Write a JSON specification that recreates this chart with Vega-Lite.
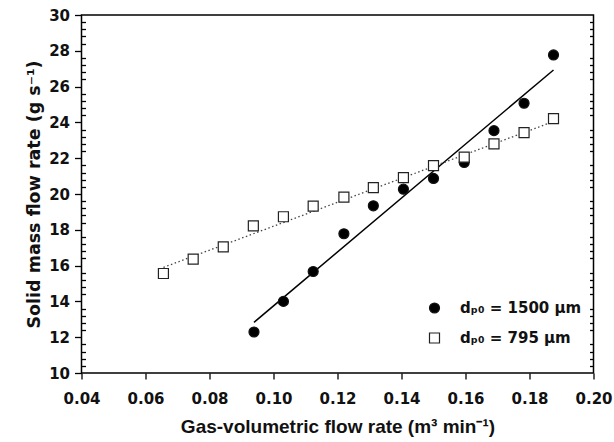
{
  "$schema": "https://vega.github.io/schema/vega-lite/v6.json",
  "width": 512,
  "height": 358,
  "autosize": {"type": "none"},
  "padding": {"left": 81.5, "top": 15, "right": 20.5, "bottom": 69},
  "background": "white",
  "config": {
    "view": {"stroke": "black", "strokeWidth": 1.5},
    "axis": {"grid": false, "domain": false, "tickColor": "black", "tickWidth": 1.3, "labelColor": "#111", "titleColor": "#111"}
  },
  "datasets": {
    "points": [
      {"q": 0.0939, "m": 12.29, "series": "dₚ₀ = 1500 μm"},
      {"q": 0.1031, "m": 14.0, "series": "dₚ₀ = 1500 μm"},
      {"q": 0.1124, "m": 15.67, "series": "dₚ₀ = 1500 μm"},
      {"q": 0.1220, "m": 17.78, "series": "dₚ₀ = 1500 μm"},
      {"q": 0.1312, "m": 19.34, "series": "dₚ₀ = 1500 μm"},
      {"q": 0.1406, "m": 20.27, "series": "dₚ₀ = 1500 μm"},
      {"q": 0.1500, "m": 20.87, "series": "dₚ₀ = 1500 μm"},
      {"q": 0.1596, "m": 21.76, "series": "dₚ₀ = 1500 μm"},
      {"q": 0.1689, "m": 23.54, "series": "dₚ₀ = 1500 μm"},
      {"q": 0.1783, "m": 25.07, "series": "dₚ₀ = 1500 μm"},
      {"q": 0.1875, "m": 27.77, "series": "dₚ₀ = 1500 μm"},
      {"q": 0.0656, "m": 15.56, "series": "dₚ₀ = 795 μm"},
      {"q": 0.0749, "m": 16.36, "series": "dₚ₀ = 795 μm"},
      {"q": 0.0843, "m": 17.05, "series": "dₚ₀ = 795 μm"},
      {"q": 0.0937, "m": 18.22, "series": "dₚ₀ = 795 μm"},
      {"q": 0.1031, "m": 18.73, "series": "dₚ₀ = 795 μm"},
      {"q": 0.1124, "m": 19.32, "series": "dₚ₀ = 795 μm"},
      {"q": 0.1220, "m": 19.82, "series": "dₚ₀ = 795 μm"},
      {"q": 0.1312, "m": 20.36, "series": "dₚ₀ = 795 μm"},
      {"q": 0.1406, "m": 20.92, "series": "dₚ₀ = 795 μm"},
      {"q": 0.1500, "m": 21.59, "series": "dₚ₀ = 795 μm"},
      {"q": 0.1596, "m": 22.06, "series": "dₚ₀ = 795 μm"},
      {"q": 0.1689, "m": 22.80, "series": "dₚ₀ = 795 μm"},
      {"q": 0.1783, "m": 23.43, "series": "dₚ₀ = 795 μm"},
      {"q": 0.1875, "m": 24.21, "series": "dₚ₀ = 795 μm"}
    ],
    "fits": [
      {"q": 0.0939, "m": 12.83, "fit": "1500"},
      {"q": 0.1875, "m": 26.93, "fit": "1500"},
      {"q": 0.0656, "m": 15.90, "fit": "795"},
      {"q": 0.1875, "m": 24.05, "fit": "795"}
    ]
  },
  "layer": [
    {
      "data": {"name": "fits"},
      "transform": [{"filter": "datum.fit === '1500'"}],
      "mark": {"type": "line", "color": "black", "strokeWidth": 1.5},
      "encoding": {
        "x": {
          "field": "q", "type": "quantitative",
          "scale": {"domain": [0.04, 0.2], "nice": false, "zero": false},
          "axis": {
            "orient": "bottom",
            "values": [0.04, 0.06, 0.08, 0.1, 0.12, 0.14, 0.16, 0.18, 0.2],
            "format": ".2f",
            "tickSize": 6,
            "labelPadding": 12,
            "labelFont": "DejaVu Sans", "labelFontWeight": "bold", "labelFontSize": 15,
            "labelFlush": false, "labelOverlap": false,
            "title": "Gas-volumetric flow rate (m³ min⁻¹)",
            "titleFont": "Liberation Sans", "titleFontWeight": "bold", "titleFontSize": 19,
            "titlePadding": 11
          }
        },
        "y": {
          "field": "m", "type": "quantitative",
          "scale": {"domain": [10, 30], "nice": false, "zero": false},
          "axis": {
            "orient": "left",
            "values": [10, 12, 14, 16, 18, 20, 22, 24, 26, 28, 30],
            "tickSize": 7,
            "labelPadding": 5,
            "labelFont": "DejaVu Sans", "labelFontWeight": "bold", "labelFontSize": 15,
            "labelFlush": false, "labelOverlap": false,
            "title": "Solid mass flow rate (g s⁻¹)",
            "titleFont": "DejaVu Sans", "titleFontWeight": "bold", "titleFontSize": 17.5,
            "titlePadding": 5
          }
        }
      }
    },
    {
      "data": {"name": "fits"},
      "transform": [{"filter": "datum.fit === '795'"}],
      "mark": {"type": "line", "color": "#444", "strokeWidth": 1.3, "strokeDash": [1.5, 2.5]},
      "encoding": {
        "x": {"field": "q", "type": "quantitative", "scale": {"domain": [0.04, 0.2], "nice": false, "zero": false}},
        "y": {
          "field": "m", "type": "quantitative",
          "scale": {"domain": [10, 30], "nice": false, "zero": false},
          "axis": {
            "orient": "left",
            "offset": -4,
            "values": [10.4,10.8,11.2,11.6,12.4,12.8,13.2,13.6,14.4,14.8,15.2,15.6,16.4,16.8,17.2,17.6,18.4,18.8,19.2,19.6,20.4,20.8,21.2,21.6,22.4,22.8,23.2,23.6,24.4,24.8,25.2,25.6,26.4,26.8,27.2,27.6,28.4,28.8,29.2,29.6],
            "tickSize": 4,
            "labels": false,
            "title": null
          }
        }
      }
    },
    {
      "data": {"name": "points"},
      "mark": {"type": "point", "filled": true, "strokeWidth": 1.2, "size": 100, "opacity": 1},
      "encoding": {
        "x": {"field": "q", "type": "quantitative", "scale": {"domain": [0.04, 0.2], "nice": false, "zero": false}},
        "y": {
          "field": "m", "type": "quantitative",
          "scale": {"domain": [10, 30], "nice": false, "zero": false},
          "axis": {
            "orient": "right",
            "offset": -4,
            "values": [10.4,10.8,11.2,11.6,12.4,12.8,13.2,13.6,14.4,14.8,15.2,15.6,16.4,16.8,17.2,17.6,18.4,18.8,19.2,19.6,20.4,20.8,21.2,21.6,22.4,22.8,23.2,23.6,24.4,24.8,25.2,25.6,26.4,26.8,27.2,27.6,28.4,28.8,29.2,29.6],
            "tickSize": 4,
            "labels": false,
            "title": null
          }
        },
        "shape": {
          "field": "series", "type": "nominal",
          "scale": {"domain": ["dₚ₀ = 1500 μm", "dₚ₀ = 795 μm"], "range": ["circle", "square"]},
          "legend": {
            "orient": "none", "legendX": 345.5, "legendY": 285.5, "title": null, "padding": 0,
            "labelFont": "DejaVu Sans", "labelFontWeight": "bold", "labelFontSize": 15, "labelColor": "#111",
            "labelOffset": 18, "rowPadding": 14, "symbolSize": 100, "symbolStrokeWidth": 1.2
          }
        },
        "fill": {
          "field": "series", "type": "nominal",
          "scale": {"domain": ["dₚ₀ = 1500 μm", "dₚ₀ = 795 μm"], "range": ["black", "white"]},
          "legend": {
            "orient": "none", "legendX": 345.5, "legendY": 285.5, "title": null, "padding": 0,
            "labelFont": "DejaVu Sans", "labelFontWeight": "bold", "labelFontSize": 15, "labelColor": "#111",
            "labelOffset": 18, "rowPadding": 14, "symbolSize": 100, "symbolStrokeWidth": 1.2
          }
        },
        "stroke": {
          "field": "series", "type": "nominal",
          "scale": {"domain": ["dₚ₀ = 1500 μm", "dₚ₀ = 795 μm"], "range": ["#111", "#222"]},
          "legend": {
            "orient": "none", "legendX": 345.5, "legendY": 285.5, "title": null, "padding": 0,
            "labelFont": "DejaVu Sans", "labelFontWeight": "bold", "labelFontSize": 15, "labelColor": "#111",
            "labelOffset": 18, "rowPadding": 14, "symbolSize": 100, "symbolStrokeWidth": 1.2
          }
        }
      }
    }
  ],
  "resolve": {"axis": {"y": "independent"}}
}
